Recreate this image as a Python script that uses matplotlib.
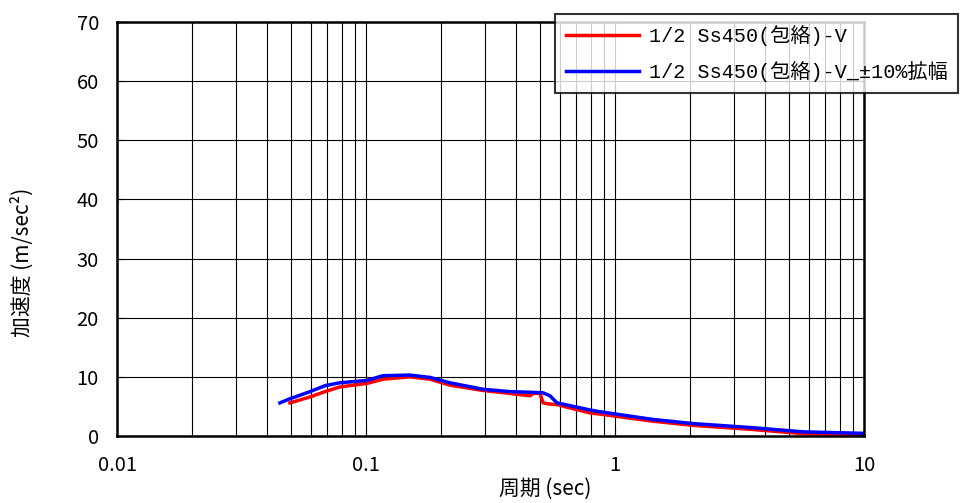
import matplotlib
matplotlib.use("Agg")
import matplotlib.pyplot as plt
from matplotlib.ticker import FixedLocator, NullFormatter

plt.rcParams['font.family'] = ['Noto Sans CJK JP', 'DejaVu Sans']

# period (sec) and acceleration (m/sec2)
t_red = [0.0495, 0.0596, 0.0684, 0.0786, 0.101, 0.117, 0.150, 0.181, 0.217,
         0.295, 0.379, 0.456, 0.470, 0.500, 0.514, 0.548, 0.585, 0.794, 0.870,
         1.42, 2.06, 3.58, 5.69, 10.0]
a_red = [5.6, 6.6, 7.5, 8.3, 8.9, 9.6, 10.0, 9.6, 8.6,
         7.7, 7.2, 6.8, 7.2, 7.2, 5.6, 5.4, 5.3, 3.9, 3.7,
         2.5, 1.8, 1.1, 0.4, 0.2]
t_blue = [0.0451, 0.0495, 0.0596, 0.0684, 0.0786, 0.101, 0.117, 0.150, 0.181,
          0.217, 0.295, 0.379, 0.456, 0.514, 0.548, 0.585, 0.794, 0.870,
          1.42, 2.06, 3.58, 5.69, 10.0]
a_blue = [5.6, 6.3, 7.5, 8.5, 9.0, 9.4, 10.2, 10.3, 9.9,
          9.0, 7.9, 7.5, 7.4, 7.3, 6.8, 5.6, 4.4, 4.1,
          2.8, 2.1, 1.4, 0.7, 0.45]

label_red = "1/2 Ss450(包絡)-V"
label_blue = "1/2 Ss450(包絡)-V_±10%拡幅"

fig = plt.figure(figsize=(9.63, 5.03), dpi=100)
ax = fig.add_axes([0.1215, 0.1332, 0.7757, 0.8231])

ax.plot(t_red, a_red, color="#ff0000", lw=2.5, label=label_red)
ax.plot(t_blue, a_blue, color="#0000ff", lw=2.5, label=label_blue)

ax.set_xscale("log")
ax.set_xlim(0.01, 10)
ax.set_ylim(0, 70)
ax.set_yticks(range(0, 71, 10))
ax.set_xticks([0.01, 0.1, 1, 10])
ax.set_xticklabels(["0.01", "0.1", "1", "10"])
minors = [m * 10.0 ** e for e in (-2, -1, 0) for m in range(2, 10)]
ax.xaxis.set_minor_locator(FixedLocator(minors))
ax.xaxis.set_minor_formatter(NullFormatter())

ax.grid(True, which="both", axis="x", color="black", lw=0.8)
ax.grid(True, which="major", axis="y", color="black", lw=0.8)
ax.tick_params(which="both", direction="in", labelsize=14.5, length=5)
ax.tick_params(axis="x", pad=14)
ax.tick_params(axis="y", pad=13)
for s in ax.spines.values():
    s.set_linewidth(1.8)

ax.set_xlabel("周期 (sec)", fontsize=15)
ax.xaxis.set_label_coords(0.573, -0.1)
ax.set_ylabel("加速度 (m/sec²)", fontsize=15)
ax.yaxis.set_label_coords(-0.112, 0.42)

leg = fig.legend(loc="upper left", bbox_to_anchor=(555 / 963, 1 - 14 / 503),
                 prop={"family": ["Liberation Mono", "Noto Sans CJK JP"], "size": 14.5},
                 frameon=True, fancybox=False, edgecolor="black",
                 handlelength=3.6, handletextpad=0.5, borderpad=0.55,
                 labelspacing=0.75, borderaxespad=0)
leg.get_frame().set_linewidth(1.5)

fig.savefig("out.png", dpi=100)
